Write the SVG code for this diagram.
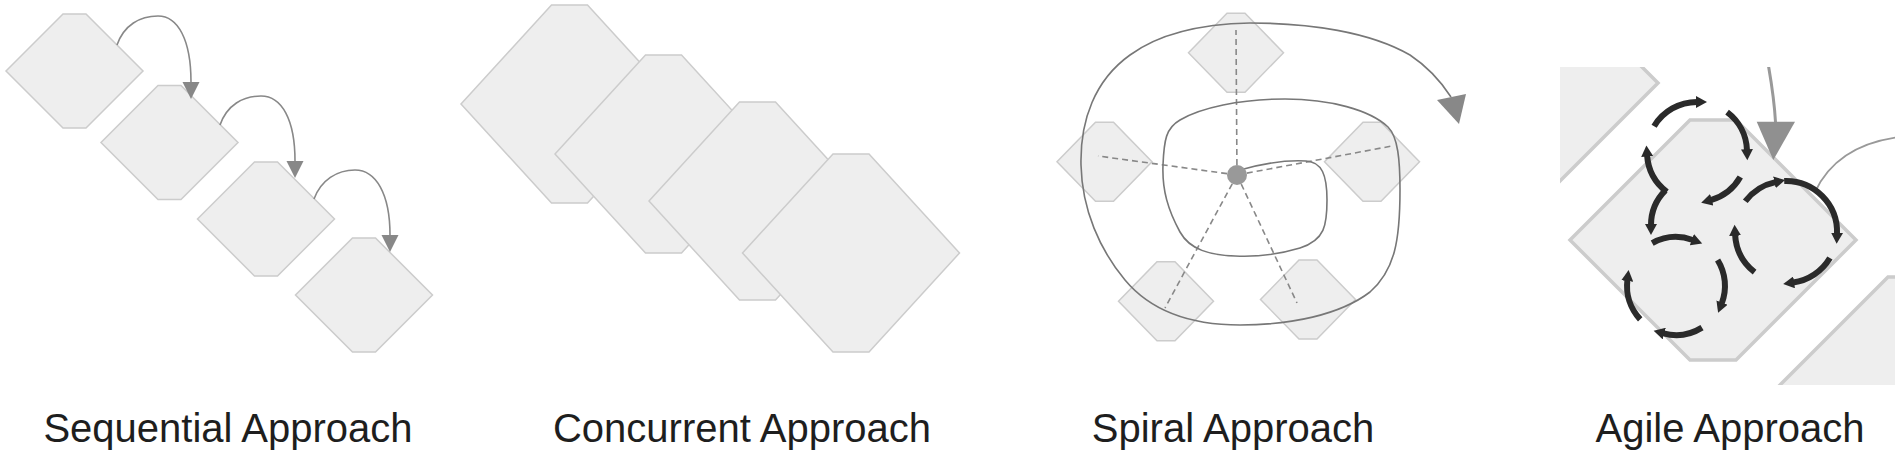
<svg xmlns="http://www.w3.org/2000/svg" width="1900" height="454" viewBox="0 0 1900 454">
<style>
.hex{fill:#eeeeee;stroke:#cccccc;stroke-width:1.5}
.hexA{fill:#eeeeee;stroke:#cccccc;stroke-width:3.5}
.seq{fill:none;stroke:#888888;stroke-width:1.6}
.dash{fill:none;stroke:#888888;stroke-width:1.6;stroke-dasharray:6 4}
.spiral{fill:none;stroke:#777777;stroke-width:1.6}
.loop{fill:none;stroke:#2a2a2a;stroke-width:6}
.garrow{fill:none;stroke:#999999}
.label{font-family:"Liberation Sans",Arial,sans-serif;font-size:40px;fill:#1e1e1e;text-anchor:middle}
</style>
<defs>
<marker id="ah" markerUnits="userSpaceOnUse" markerWidth="18" markerHeight="18" refX="0" refY="8.5" orient="auto" viewBox="0 0 18 18">
<path d="M0,0 L17,8.5 L0,17 z" fill="#888888"/>
</marker>
<marker id="dk" markerUnits="userSpaceOnUse" markerWidth="12" markerHeight="12" refX="1" refY="6" orient="auto" viewBox="0 0 12 12">
<path d="M0,0 L11,6 L0,12 z" fill="#2a2a2a"/>
</marker>
<clipPath id="agileClip"><rect x="1560" y="67" width="335" height="318"/></clipPath>
</defs>

<g id="sequential">
<g id="seq-1"><polygon class="hex" points="63,14 86,14 143,71 86,128 63,128 6,71"/></g>
<g id="seq-2"><polygon class="hex" points="158,85.5 181,85.5 238,142.5 181,199.5 158,199.5 101,142.5"/></g>
<g id="seq-3"><polygon class="hex" points="254.5,162 277.5,162 334.5,219 277.5,276 254.5,276 197.5,219"/></g>
<g id="seq-4"><polygon class="hex" points="352.5,238 375.5,238 432.5,295 375.5,352 352.5,352 295.5,295"/></g>
</g>

<g id="concurrent">
<g id="con-1"><polygon class="hex" points="551.5,5 587.5,5 678,104 587.5,203 551.5,203 461,104"/></g>
<g id="con-2"><polygon class="hex" points="645.5,55 681.5,55 772,154 681.5,253 645.5,253 555,154"/></g>
<g id="con-3"><polygon class="hex" points="739.5,102 775.5,102 866,201 775.5,300 739.5,300 649,201"/></g>
<g id="con-4"><polygon class="hex" points="833,154 869,154 959.5,253 869,352 833,352 742.5,253"/></g>
</g>

<g id="spiral">
<g id="sp-top"><polygon class="hex" points="1227,13.2 1245,13.2 1283.5,52.7 1245,92.2 1227,92.2 1188.5,52.7"/></g>
<g id="sp-left"><polygon class="hex" points="1095.5,122.2 1113.5,122.2 1152,161.7 1113.5,201.2 1095.5,201.2 1057,161.7"/></g>
<g id="sp-right"><polygon class="hex" points="1363,122.2 1381,122.2 1419.5,161.7 1381,201.2 1363,201.2 1324.5,161.7"/></g>
<g id="sp-bl"><polygon class="hex" points="1157,261.8 1175,261.8 1213.5,301.3 1175,340.8 1157,340.8 1118.5,301.3"/></g>
<g id="sp-br"><polygon class="hex" points="1299,260 1317,260 1355.5,299.5 1317,339 1299,339 1260.5,299.5"/></g>
</g>

<g id="agile">
<g clip-path="url(#agileClip)">
<g id="ag-prev"><polygon class="hexA" points="1492,-37 1538,-37 1658,83 1538,203 1492,203 1372,83"/></g>
<g id="ag-main"><polygon class="hexA" points="1690,120 1736,120 1856,240 1736,360 1690,360 1570,240"/></g>
<g id="ag-next"><polygon class="hexA" points="1888,277 1934,277 2054,397 1934,517 1888,517 1768,397"/></g>
</g>
</g>

<g id="connectors">
<path class="seq" marker-end="url(#ah)" d="M117,45 C124,25 140,16 158,16 C178,16 191,40 191,82"/>
<path class="seq" marker-end="url(#ah)" d="M220,125 C227,105 243,96 261,96 C282,96 295,120 295,161"/>
<path class="seq" marker-end="url(#ah)" d="M314,199 C321,180 337,170 355,170 C376,170 390,194 390,235"/>

<g id="spokes">
<line class="dash" x1="1237" y1="175" x2="1236" y2="30"/>
<line class="dash" x1="1237" y1="175" x2="1098" y2="156"/>
<line class="dash" x1="1237" y1="175" x2="1392" y2="146"/>
<line class="dash" x1="1237" y1="175" x2="1165" y2="308"/>
<line class="dash" x1="1237" y1="175" x2="1297" y2="303"/>
</g>
<path class="spiral" d="M1240,170 C1265,163 1290,160 1306,161 C1322,162 1327,175 1327,200 C1327,225 1325,240 1300,248 C1280,254 1255,257 1235,256 C1210,255 1190,250 1180,232 C1168,210 1162,190 1163,165 C1164,140 1166,128 1180,120 C1200,108 1240,99 1285,99 C1330,99 1370,110 1388,127 C1398,137 1400,160 1400,190 C1400,240 1395,270 1370,292 C1340,315 1290,325 1240,325 C1190,325 1150,310 1125,280 C1100,250 1082,210 1081,165 C1080,120 1095,80 1130,55 C1160,33 1200,24 1250,23 C1310,23 1370,32 1410,55 C1425,65 1440,80 1451,97"/>
<polygon points="1437,100 1466,94 1459,124" fill="#888888"/>
<circle cx="1237" cy="175" r="10" fill="#999999"/>

<g clip-path="url(#agileClip)">
<path class="garrow" stroke-width="3" d="M1766.5,55 Q1774,95 1775.5,122"/>
<polygon points="1756.7,121.7 1795,121.7 1773.3,160" fill="#909090"/>
<path class="garrow" stroke-width="1.8" d="M1815,192 C1830,160 1860,142 1900,137"/>
</g>
<g id="loops">
<path class="loop" marker-end="url(#dk)" d="M1654.1,126.2 A50,50 0 0 1 1697,102"/>
<path class="loop" marker-end="url(#dk)" d="M1727.1,112.1 A50,50 0 0 1 1747,150.3"/>
<path class="loop" marker-end="url(#dk)" d="M1740.3,177 A50,50 0 0 1 1710.8,200.1"/>
<path class="loop" marker-end="url(#dk)" d="M1666.9,191.9 A50,50 0 0 1 1647.1,155.5"/>
<path class="loop" marker-end="url(#dk)" d="M1665.4,190.4 A49,49 0 0 0 1651,225"/>
<path class="loop" marker-end="url(#dk)" d="M1745.3,201.3 A51,51 0 0 1 1775.4,182.1"/>
<path class="loop" marker-end="url(#dk)" d="M1784.2,181 A51,51 0 0 1 1837,233.8"/>
<path class="loop" marker-end="url(#dk)" d="M1829.9,258 A51,51 0 0 1 1793.1,282.5"/>
<path class="loop" marker-end="url(#dk)" d="M1754.6,272.2 A51,51 0 0 1 1735.1,234.7"/>
<path class="loop" marker-end="url(#dk)" d="M1652.2,243.1 A49,49 0 0 1 1692.8,240"/>
<path class="loop" marker-end="url(#dk)" d="M1717.6,260 A49,49 0 0 1 1721.7,303.5"/>
<path class="loop" marker-end="url(#dk)" d="M1702,327.6 A49,49 0 0 1 1663.3,333.3"/>
<path class="loop" marker-end="url(#dk)" d="M1640.2,319.4 A49,49 0 0 1 1627.4,280"/>
</g>
</g>

<g id="labels">
<text class="label" x="228" y="442">Sequential Approach</text>
<text class="label" x="742" y="442">Concurrent Approach</text>
<text class="label" x="1233" y="442">Spiral Approach</text>
<text class="label" x="1730" y="442">Agile Approach</text>
</g>
</svg>
